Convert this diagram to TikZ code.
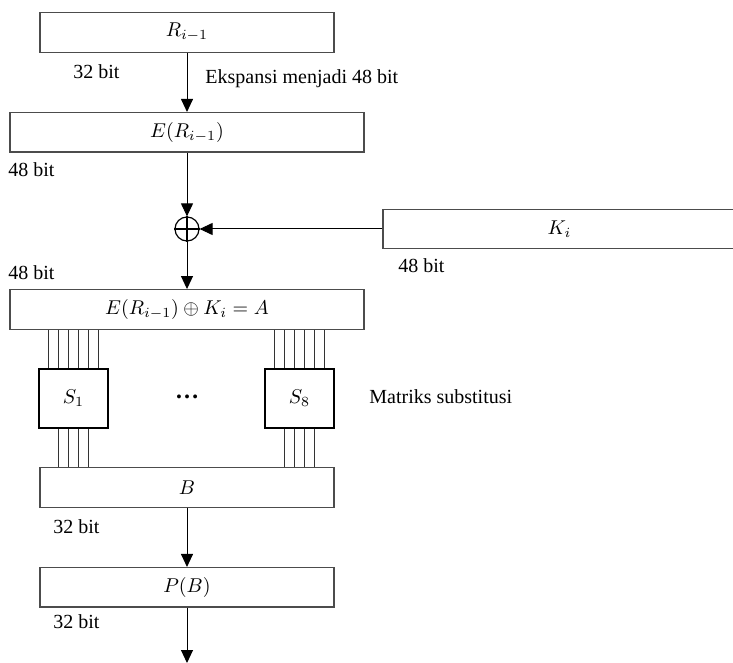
\documentclass[tikz,border=0pt]{standalone}
\usepackage{fontspec}
\setmainfont{Liberation Serif}
\usetikzlibrary{arrows.meta, positioning}

\begin{document}
\begin{tikzpicture}[
x=0.5pt, y=-0.5pt,
box/.style={rectangle, draw=black!70, line width=0.7pt, inner sep=0pt,
minimum height=19.75pt, align=center},
sbox/.style={rectangle, draw, line width=0.7pt, inner sep=0pt,
minimum width=34.5pt, minimum height=29.5pt},
arr/.style={-{Triangle[width=6pt,length=6.5pt]}, line width=0.5pt},
wire/.style={line width=0.5pt, draw=black!80},
lbl/.style={anchor=west, inner sep=0pt}
]
\useasboundingbox (0,0) rectangle (733,663);

\node[box, minimum width=147pt] (r) at (187,32.5) {$R_{i-1}$};
\node[box, minimum width=177pt, below=29.5pt of r] (er) {$E(R_{i-1})$};
\node[circle, draw, line width=0.6pt, minimum size=12pt, inner sep=0pt] (xo) at (187,229) {};
\node[box, minimum width=176.5pt] (k) at (559.5,229) {$K_i$};
\node[box, minimum width=177pt] (a) at (187,309.5) {$E(R_{i-1}) \oplus K_i = A$};
\node[sbox] (s1) at (73.5,398.5) {$S_1$};
\node[sbox] (s8) at (299.5,398.5) {$S_8$};
\node[font=\large\bfseries] (dots) at (187,397) {…};
\node[box, minimum width=147pt] (b) at (187,487.5) {$B$};
\node[box, minimum width=147pt, below=29.5pt of b] (p) {$P(B)$};
\coordinate (out) at (187,663);

% labels
\node[lbl] (w32a) at (73,72) {32 bit};
\node[lbl] (ekspansi) at (205,79) {Ekspansi menjadi 48 bit};
\node[lbl] (w48a) at (8,170) {48 bit};
\node[lbl] (w48b) at (8,273) {48 bit};
\node[lbl] (w48k) at (398,266) {48 bit};
\node[lbl] (matriks) at (369,397) {Matriks substitusi};
\node[lbl] (w32b) at (53,527) {32 bit};
\node[lbl] (w32c) at (53,622) {32 bit};

% xor sign
\draw[line width=0.6pt] (xo.north) -- (xo.south) (xo.west) -- (xo.east);

\draw[arr] (r) -- (er);
\draw[arr] (er) -- (xo);
\draw[arr] (k) -- (xo);
\draw[arr] (xo) -- (a);
\draw[arr] (b) -- (p);
\draw[arr] (p) -- (out);

% s-box wires
\foreach \s in {s1,s8} {
  \coordinate (\s top) at (a.south -| \s.north);
  \coordinate (\s bot) at (b.north -| \s.south);
  \foreach \dx in {-12.5,-7.5,-2.5,2.5,7.5,12.5}
    \draw[wire] ([xshift=\dx pt]\s top) -- ([xshift=\dx pt]\s.north);
  \foreach \dx in {-7.5,-2.5,2.5,7.5}
    \draw[wire] ([xshift=\dx pt]\s.south) -- ([xshift=\dx pt]\s bot);
}
\end{tikzpicture}
\end{document}
